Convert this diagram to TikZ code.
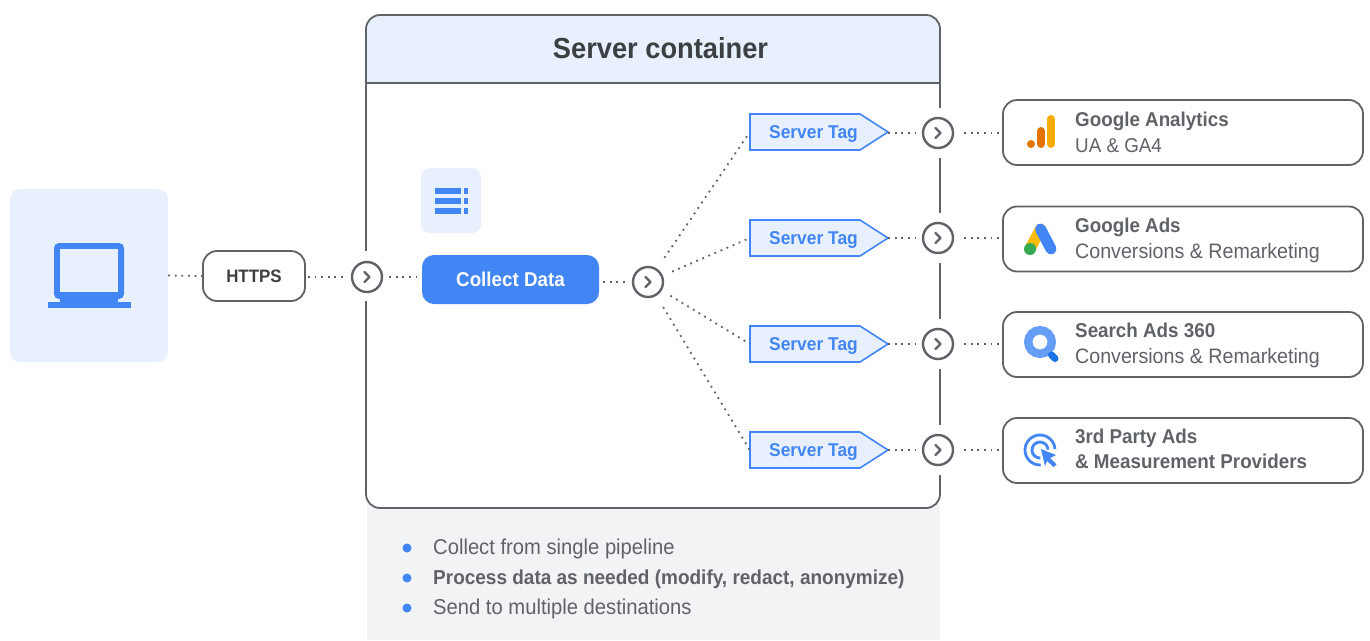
\documentclass[tikz,border=0pt]{standalone}
\usepackage{fontspec}
\setmainfont[FakeStretch=0.94]{Liberation Sans}
\definecolor{gblue}{HTML}{4285F4}
\definecolor{gpale}{HTML}{E8F0FE}
\definecolor{ggrey}{HTML}{5F6368}
\definecolor{gdark}{HTML}{3C4043}
\definecolor{gpanel}{HTML}{F1F3F4}
\definecolor{gaD}{HTML}{E37400}
\definecolor{gaL}{HTML}{F9AB00}
\definecolor{adY}{HTML}{FBBC04}
\definecolor{adG}{HTML}{34A853}
\definecolor{saL}{HTML}{669DF6}
\definecolor{saD}{HTML}{1A73E8}
\tikzset{
  frameline/.style={draw=ggrey,line width=1.8pt},
  dots/.style={draw=ggrey,line width=1.8pt,dash pattern=on 1.8pt off 4.8pt},
  pill/.style={rectangle,rounded corners=14pt,draw=ggrey,line width=1.8pt,fill=white,inner sep=0pt},
  collectbox/.style={rectangle,rounded corners=12pt,fill=gblue,text=white,font=\fontsize{20}{24}\selectfont\bfseries,minimum width=177pt,minimum height=49pt,inner sep=0pt},
  tagbox/.style={rectangle,minimum width=138pt,minimum height=36pt,inner sep=0pt},
  tagshape/.style={draw=gblue,fill=gpale,line width=1.6pt,line join=miter},
  tagtext/.style={text=gblue,font=\fontsize{18.5}{22}\selectfont\bfseries,inner sep=0pt,text height=14pt,text depth=4pt},
  hub/.style={circle,draw=ggrey,line width=2.4pt,fill=white,minimum size=30pt,inner sep=0pt},
  chev/.style={draw=ggrey,line width=2.4pt,line cap=round,line join=round},
  dest/.style={pill,minimum width=360pt,minimum height=65pt},
  titletext/.style={anchor=base west,inner sep=0pt,text=ggrey,font=\fontsize{20}{24}\selectfont\bfseries},
  subtext/.style={anchor=base west,inner sep=0pt,text=ggrey,font=\fontsize{20.9}{24}\selectfont},
  bullet/.style={circle,fill=gblue,minimum size=9pt,inner sep=0pt},
  listtext/.style={anchor=base west,inner sep=0pt,text=ggrey,font=\fontsize{21.5}{24}\selectfont},
}
\begin{document}
\begin{tikzpicture}[x=1pt,y=-1pt]
\useasboundingbox (0,0) rectangle (1370,640);
% lower panel
\fill[gpanel] (367,500) rectangle (940,640);
% container
\draw[frameline,rounded corners=14pt,fill=white] (366,83) -- (366,508) -- (940,508) -- (940,83);
\fill[gpale,rounded corners=14pt] (366,83) -- (366,15) -- (940,15) -- (940,83);
\draw[frameline,rounded corners=14pt] (366,83) -- (366,15) -- (940,15) -- (940,83);
\draw[frameline] (366,83) -- (940,83);
\node[inner sep=0pt,text=gdark,font=\fontsize{29}{34}\selectfont\bfseries] (title) at (660.5,48) {Server container};
% laptop panel
\node[rectangle,rounded corners=10pt,fill=gpale,minimum width=158pt,minimum height=173pt,inner sep=0pt] (laptop) at (89,275.5) {};
\fill[gblue,rounded corners=5pt] (54,243) rectangle (124,299);
\fill[gpale] (60,249) rectangle (118,292);
\fill[gblue] (60,296) rectangle (118,303);
\fill[gblue] (47.5,302) rectangle (130.5,308);
% doc icon
\node[rectangle,rounded corners=9pt,fill=gpale,minimum width=60pt,minimum height=65pt,inner sep=0pt] (docpanel) at (451,200.5) {};
\foreach \yy in {188,198,208} {
  \fill[gblue] (435,\yy) rectangle (461,\yy+5.5);
  \fill[gblue] (464,\yy) rectangle (468,\yy+5.5);
}
% https, collect
\node[pill,minimum width=102pt,minimum height=50pt,text=gdark,font=\fontsize{18}{22}\selectfont\bfseries] (https) at (254,276) {HTTPS};
\node[collectbox] (collect) at (510.5,279.5) {Collect Data};
% hubs: halo gaps on the frame
\foreach \x/\y in {366/276,940/133,940/238,940/344,940/450} {
  \fill[white] (\x,\y) circle (25pt);
}
\foreach \n/\x/\y in {h0/367/277,h1/648/282,h2/938/133,h3/938/238,h4/938/344,h5/938/450} {
  \node[hub] (\n) at (\x,\y) {};
  \draw[chev] (\x-2.5,\y-5) -- (\x+2.5,\y) -- (\x-2.5,\y+5);
}
% tags
\foreach \n/\y in {t1/132,t2/238,t3/344,t4/450} {
  \node[tagbox] (\n) at (819,\y) {};
  \draw[tagshape] (750,\y-18) -- (860,\y-18) -- (888,\y) -- (860,\y+18) -- (750,\y+18) -- cycle;
  \node[tagtext] (\n l) at (813.5,\y+1) {Server Tag};
}
% destinations
\node[dest] (d1) at (1183,132.5) {};
\node[dest] (d2) at (1183,239) {};
\node[dest] (d3) at (1183,344.5) {};
\node[dest] (d4) at (1183,450.5) {};
\node[titletext] (d1a) at (1075,126) {Google Analytics};
\node[subtext,font=\fontsize{20}{24}\selectfont] (d1b) at (1075,152) {UA \& GA4};
\node[titletext] (d2a) at (1075,232) {Google Ads};
\node[subtext] (d2b) at (1075,258) {Conversions \& Remarketing};
\node[titletext] (d3a) at (1075,337) {Search Ads 360};
\node[subtext] (d3b) at (1075,363) {Conversions \& Remarketing};
\node[titletext] (d4a) at (1075,443) {3rd Party Ads};
\node[titletext] (d4b) at (1075,468) {\& Measurement Providers};
% analytics icon
\fill[gaD] (1031,144) circle (4pt);
\draw[gaD,line width=8pt,line cap=round] (1041,131) -- (1041,144);
\draw[gaL,line width=8pt,line cap=round] (1051,119) -- (1051,144);
% ads icon
\draw[adY,line width=11pt,line cap=round] (1040.5,229) -- (1030,249);
\draw[gblue,line width=11pt,line cap=round] (1040.5,229) -- (1051,249);
\fill[adG] (1030,249) circle (6pt);
% search ads icon
\draw[saL,line width=8.4pt] (1040,342) circle (11.8pt);
\draw[saD,line width=7pt,line cap=round] (1051.5,355) -- (1055,358.5);
% third party icon
\draw[gblue,line width=2.8pt] (1040,450) circle (15pt);
\draw[gblue,line width=2.8pt] (1040,450) circle (8pt);
\fill[white] (1040,450) -- (1060,449) -- (1060,470) -- (1041,470) -- cycle;
\fill[gblue] (1041,449) -- (1056,455) -- (1050,458) -- (1056.5,464.5) -- (1053.5,467) -- (1047,461) -- (1045,466) -- cycle;
% connectors
\draw[dots] (laptop.east) -- (https.west);
\draw[dots,shorten >=6pt] (https.east |- h0) ++(2,0) -- (h0);
\draw[dots,shorten <=6pt] (h0.east) -- (collect.west |- h0.east);
\draw[dots,shorten <=4pt,shorten >=4pt] (collect.east |- h1) -- (h1.west);
\draw[dots,shorten <=13pt] (h1) -- (t1.west);
\draw[dots,shorten <=10pt] (h1) -- (t2.west);
\draw[dots,shorten <=10pt] (h1) -- (t3.west);
\draw[dots,shorten <=13pt] (h1) -- (t4.west);
\foreach \t/\h in {t1/h2,t2/h3,t3/h4,t4/h5} {
  \draw[dots,shorten >=4pt] (\t.east |- \h) -- (\h.west);
}
\foreach \h/\d in {h2/d1,h3/d2,h4/d3,h5/d4} {
  \draw[dots,shorten <=10pt] (\h.east) -- (\d.west |- \h);
}
% list
\node[bullet] (b1) at (407,548) {};
\node[bullet] (b2) at (407,578) {};
\node[bullet] (b3) at (407,608) {};
\node[listtext] (l1) at (433,554) {Collect from single pipeline};
\node[listtext,font=\fontsize{20.2}{24}\selectfont\bfseries] (l2) at (433,584) {Process data as needed (modify, redact, anonymize)};
\node[listtext] (l3) at (433,614) {Send to multiple destinations};
\end{tikzpicture}
\end{document}
